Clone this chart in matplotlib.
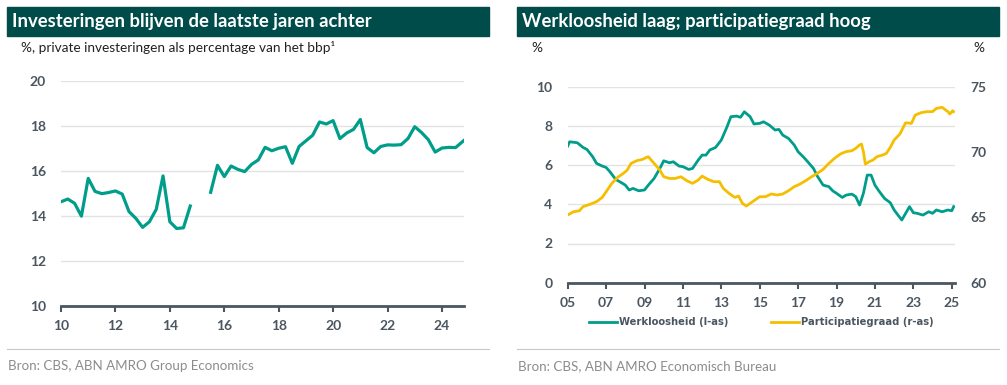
import matplotlib
matplotlib.use("Agg")
import matplotlib.pyplot as plt
from matplotlib.patches import Rectangle
from matplotlib.lines import Line2D

# ---------------- data ----------------
# Left chart: private investment as % of GDP (quarterly)
inv_x1 = [10.0, 10.25, 10.5, 10.75, 11.0, 11.25, 11.5, 11.75, 12.0, 12.25,
          12.5, 12.75, 13.0, 13.25, 13.5, 13.75, 14.0, 14.25, 14.5, 14.75]
inv_y1 = [14.64, 14.76, 14.57, 14.0, 15.68, 15.1, 15.0, 15.05, 15.12, 14.98,
          14.2, 13.9, 13.5, 13.75, 14.3, 15.79, 13.75, 13.45, 13.48, 14.45]
inv_x2 = [15.5, 15.75, 16.0, 16.25, 16.5, 16.75, 17.0, 17.25, 17.5, 17.75,
          18.0, 18.25, 18.5, 18.75, 19.0, 19.25, 19.5, 19.75, 20.0, 20.25,
          20.5, 20.75, 21.0, 21.25, 21.5, 21.75, 22.0, 22.25, 22.5, 22.75,
          23.0, 23.25, 23.5, 23.75, 24.0, 24.25, 24.5, 24.8]
inv_y2 = [15.06, 16.26, 15.76, 16.23, 16.08, 15.98, 16.3, 16.5, 17.06, 16.91,
          17.02, 17.09, 16.35, 17.1, 17.35, 17.6, 18.19, 18.1, 18.25, 17.45,
          17.7, 17.86, 18.3, 17.05, 16.82, 17.1, 17.17, 17.16, 17.18, 17.45,
          17.98, 17.72, 17.4, 16.85, 17.03, 17.06, 17.05, 17.36]
left_xticks = [10, 12, 14, 16, 18, 20, 22, 24]
left_yticks = [10, 12, 14, 16, 18, 20]

# Right chart: unemployment (left axis) and participation rate (right axis)
unemp_x = [2005.0, 2005.1, 2005.5, 2005.8, 2006.0, 2006.3, 2006.5, 2006.8, 2007.0, 2007.2,
           2007.5, 2007.8, 2008.0, 2008.2, 2008.4, 2008.7, 2009.0, 2009.2, 2009.5, 2009.8,
           2010.0, 2010.3, 2010.5, 2010.8, 2011.0, 2011.3, 2011.5, 2011.8, 2012.0, 2012.2,
           2012.4, 2012.7, 2013.0, 2013.3, 2013.5, 2013.8, 2014.0, 2014.2, 2014.5, 2014.7,
           2015.0, 2015.2, 2015.5, 2015.8, 2016.0, 2016.2, 2016.5, 2016.8, 2017.0, 2017.3,
           2017.5, 2017.8, 2018.0, 2018.3, 2018.6, 2018.8, 2019.0, 2019.3, 2019.5, 2019.8,
           2020.0, 2020.2, 2020.4, 2020.6, 2020.8, 2021.0, 2021.2, 2021.5, 2021.8, 2022.0,
           2022.2, 2022.4, 2022.6, 2022.8, 2023.0, 2023.2, 2023.5, 2023.8, 2024.0, 2024.2,
           2024.5, 2024.8, 2025.0, 2025.1]
unemp_y = [6.97, 7.19, 7.14, 6.9, 6.8, 6.43, 6.09, 5.95, 5.88, 5.66,
           5.27, 5.1, 4.98, 4.73, 4.81, 4.69, 4.73, 4.98, 5.32, 5.83,
           6.22, 6.12, 6.17, 5.95, 5.92, 5.78, 5.83, 6.26, 6.51, 6.51,
           6.77, 6.9, 7.28, 7.96, 8.47, 8.5, 8.44, 8.72, 8.47, 8.1,
           8.13, 8.21, 8.04, 7.79, 7.82, 7.53, 7.36, 7.02, 6.68, 6.39,
           6.17, 5.83, 5.44, 4.98, 4.9, 4.69, 4.56, 4.35, 4.47, 4.52,
           4.39, 3.96, 4.56, 5.49, 5.49, 4.98, 4.69, 4.3, 4.08, 3.71,
           3.45, 3.2, 3.54, 3.88, 3.57, 3.54, 3.45, 3.62, 3.54, 3.71,
           3.62, 3.71, 3.67, 3.88]
part_x = [2005.0, 2005.3, 2005.6, 2005.8, 2006.2, 2006.5, 2006.8, 2007.0, 2007.3, 2007.6,
          2007.9, 2008.1, 2008.3, 2008.6, 2008.9, 2009.1, 2009.2, 2009.5, 2009.8, 2010.0,
          2010.3, 2010.6, 2010.9, 2011.2, 2011.5, 2011.8, 2012.0, 2012.3, 2012.6, 2012.9,
          2013.1, 2013.4, 2013.7, 2013.9, 2014.1, 2014.3, 2014.5, 2014.8, 2015.0, 2015.3,
          2015.6, 2015.9, 2016.2, 2016.5, 2016.8, 2017.1, 2017.4, 2017.7, 2018.0, 2018.3,
          2018.6, 2018.9, 2019.2, 2019.5, 2019.8, 2020.0, 2020.2, 2020.3, 2020.4, 2020.5,
          2020.7, 2020.9, 2021.1, 2021.4, 2021.6, 2021.8, 2022.0, 2022.3, 2022.6, 2022.9,
          2023.1, 2023.4, 2023.7, 2024.0, 2024.2, 2024.5, 2024.8, 2024.9, 2025.05, 2025.1]
part_y = [65.18, 65.43, 65.5, 65.82, 66.02, 66.2, 66.53, 66.96, 67.6, 68.06,
          68.37, 68.62, 69.13, 69.34, 69.44, 69.59, 69.64, 69.13, 68.62, 68.11,
          67.98, 67.98, 68.11, 67.81, 67.6, 67.86, 68.16, 67.91, 67.73, 67.73,
          67.22, 66.84, 66.53, 66.63, 66.07, 65.87, 66.07, 66.38, 66.58, 66.58,
          66.79, 66.71, 66.79, 67.04, 67.35, 67.55, 67.81, 68.11, 68.37, 68.67,
          69.13, 69.52, 69.85, 70.03, 70.1, 70.28, 70.54, 70.61, 70.03, 69.08,
          69.26, 69.39, 69.64, 69.77, 69.9, 70.36, 70.92, 71.38, 72.24, 72.19,
          72.83, 73.01, 73.09, 73.09, 73.34, 73.42, 73.09, 72.91, 73.16, 73.09]
right_xticks = [2005, 2007, 2009, 2011, 2013, 2015, 2017, 2019, 2021, 2023, 2025]
right_xlabels = ["05", "07", "09", "11", "13", "15", "17", "19", "21", "23", "25"]
right_yticks_l = [0, 2, 4, 6, 8, 10]
right_yticks_r = [60, 65, 70, 75]

# ---------------- style ----------------
W, H = 1007, 385
TEAL = "#009e8a"
YELLOW = "#f5bf00"
BAR = "#004c4a"
TICK = "#4b5660"
GRID = "#e3e3e3"
FONT = ["Lato", "DejaVu Sans"]
plt.rcParams["font.family"] = FONT

fig = plt.figure(figsize=(W / 100, H / 100), dpi=100)


def fx(px):
    return px / W


def fy(py):
    return 1 - py / H


def add_axes_px(x0, x1, ytop, ybot):
    return fig.add_axes([fx(x0), fy(ybot), fx(x1 - x0), (ybot - ytop) / H])


# title bars
for x0, x1, title in [(7, 489, "Investeringen blijven de laatste jaren achter"),
                      (517, 999, "Werkloosheid laag; participatiegraad hoog")]:
    fig.patches.append(Rectangle((fx(x0), fy(36)), fx(x1 - x0), 29 / H,
                                 transform=fig.transFigure, color=BAR, zorder=0))
    fig.text(fx(x0 + 5), fy(21.5), title, color="white", fontsize=13.3,
             fontweight="bold", va="center", ha="left")

fig.text(fx(21), fy(48), "%, private investeringen als percentage van het bbp\u00b9",
         fontsize=9.8, color="#222222", va="center", ha="left")
fig.text(fx(531), fy(48), "%", fontsize=9.8, color="#222222", va="center", ha="left")
fig.text(fx(973), fy(48), "%", fontsize=9.8, color="#222222", va="center", ha="left")

# separator lines and sources
for x0, x1 in [(7, 489), (517, 999)]:
    fig.add_artist(Line2D([fx(x0), fx(x1)], [fy(349), fy(349)],
                          transform=fig.transFigure, color="#c8c8c8", lw=0.8))
fig.text(fx(8), fy(366), "Bron: CBS, ABN AMRO Group Economics", fontsize=9.6,
         color="#8c8c8c", va="center", ha="left")
fig.text(fx(518), fy(366), "Bron: CBS, ABN AMRO Economisch Bureau", fontsize=9.6,
         color="#8c8c8c", va="center", ha="left")


def style_axes(ax):
    for s in ["top", "right", "left"]:
        ax.spines[s].set_visible(False)
    ax.spines["bottom"].set_color(TICK)
    ax.spines["bottom"].set_linewidth(2)
    ax.grid(axis="y", color=GRID, lw=1)
    ax.set_axisbelow(True)
    ax.tick_params(axis="x", length=4, width=1.5, color=TICK, pad=6,
                   labelsize=10, labelcolor=TICK)
    ax.tick_params(axis="y", length=0, pad=11, labelsize=10, labelcolor=TICK)
    for lab in ax.get_xticklabels() + ax.get_yticklabels():
        lab.set_fontweight("bold")


# ---------------- left chart ----------------
axL = add_axes_px(61, 464, 81.3, 306)
axL.plot(inv_x1, inv_y1, color=TEAL, lw=2.3, solid_joinstyle="round")
axL.plot(inv_x2, inv_y2, color=TEAL, lw=2.3, solid_joinstyle="round")
axL.set_xlim(10, 24.81)
axL.set_ylim(10, 20)
axL.set_xticks(left_xticks)
axL.set_xticklabels([str(t) for t in left_xticks])
axL.set_yticks(left_yticks)
axL.set_yticklabels([str(t) for t in left_yticks])
style_axes(axL)

# ---------------- right chart ----------------
axR = add_axes_px(567.7, 955, 86.7, 282.7)
l1, = axR.plot(unemp_x, unemp_y, color=TEAL, lw=2, solid_joinstyle="round",
               label="Werkloosheid (l-as)")
axR.set_xlim(2005, 2025.17)
axR.set_ylim(0, 10)
axR.set_xticks(right_xticks)
axR.set_xticklabels(right_xlabels)
axR.set_yticks(right_yticks_l)
axR.set_yticklabels([str(t) for t in right_yticks_l])
style_axes(axR)

axR2 = axR.twinx()
l2, = axR2.plot(part_x, part_y, color=YELLOW, lw=2, solid_joinstyle="round",
                label="Participatiegraad (r-as)")
axR2.set_ylim(60, 75)
axR2.set_yticks(right_yticks_r)
axR2.set_yticklabels([str(t) for t in right_yticks_r])
for s in ["top", "right", "left", "bottom"]:
    axR2.spines[s].set_visible(False)
axR2.tick_params(axis="y", length=0, pad=11, labelsize=10, labelcolor=TICK)
for lab in axR2.get_yticklabels():
    lab.set_fontweight("bold")

leg = axR.legend(handles=[l1, l2], loc="center", ncol=2, frameon=False,
                 bbox_to_anchor=(0.5, (282.7 - 322) / (282.7 - 86.7)),
                 prop={"family": "DejaVu Sans", "size": 7.2, "weight": "bold"},
                 handlelength=2.8, handletextpad=0.2,
                 columnspacing=4.2, borderaxespad=0)
for t in leg.get_texts():
    t.set_color(TICK)

fig.savefig("out.png", dpi=100)
